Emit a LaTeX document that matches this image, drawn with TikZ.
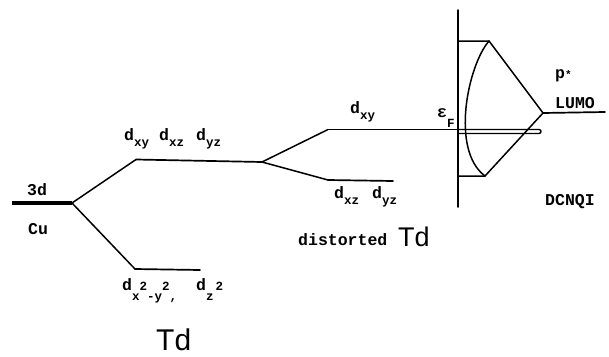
\documentclass[tikz,border=0pt]{standalone}
\usepackage{fontspec}
\newfontfamily\tw{Liberation Mono}
\newfontfamily\tdfont{Liberation Sans}
\newcommand\subtw[2][-6.5pt]{\raisebox{#1}{\fontsize{12.5}{12.5}\selectfont #2}}
\newcommand\suptw[1]{\raisebox{9.5pt}{\fontsize{12.5}{12.5}\selectfont #1}}
\begin{document}
\begin{tikzpicture}[x=1pt,y=-1pt, line cap=round, line join=round,
  lvl/.style={line width=1.7pt},
  conn/.style={line width=1.5pt},
  lab/.style={inner sep=0pt, anchor=base west, font=\tw\bfseries\fontsize{16.5}{16.5}\selectfont},
  bigtd/.style={inner sep=0pt, anchor=base west, font=\tdfont\fontsize{30}{30}\selectfont},
  midtd/.style={inner sep=0pt, anchor=base west, font=\tdfont\fontsize{27}{27}\selectfont}]
\useasboundingbox (0,0) rectangle (609,356);
% level end points
\coordinate (cuL) at (12,203);
\coordinate (cuR) at (72,203);
\coordinate (t2L) at (136,159.5);
\coordinate (t2R) at (262,162);
\coordinate (eL) at (135,269);
\coordinate (eR) at (200,270);
\coordinate (xyL) at (328,129.5);
\coordinate (xyR) at (458,129.5);
\coordinate (xzL) at (328,180);
\coordinate (xzR) at (393,181);
\coordinate (vT) at (458,10);
\coordinate (vB) at (458,207);
\coordinate (uL) at (458,41);
\coordinate (uR) at (489,41);
\coordinate (lL) at (458,176);
\coordinate (lR) at (485,176);
\coordinate (lumo) at (543,113);
\coordinate (lumoR) at (605,112);
% Cu 3d level
\draw[line width=4.5pt, line cap=butt] (cuL) -- (cuR);
\draw[conn] (cuR) -- (t2L);
\draw[conn] (cuR) -- (eL);
\draw[lvl] (t2L) -- (t2R);
\draw[lvl] (eL) -- (eR);
% distorted Td
\draw[conn] (t2R) -- (xyL);
\draw[conn] (t2R) -- (xzL);
\draw[lvl] (xyL) -- (xyR);
\draw[lvl] (xzL) -- (xzR);
% Fermi level band (double line with rounded end)
\draw[line width=1.4pt, rounded corners=2pt] (xyR) -- (541,129.5) -- (541,133.5) -- (458,133.5);
% DCNQI band
\draw[conn] (vT) -- (vB);
\draw[conn] (uL) -- (uR) -- (lumo);
\draw[conn] (lL) -- (lR) -- (lumo);
\draw[conn] (uR) .. controls (468,65) and (450,150) .. (lR);
\draw[lvl] (lumo) -- (lumoR);
% labels
\node[lab] (l3d) at (27,195) {3d};
\node[lab] (lcu) at (28,234) {Cu};
\node[lab] (lxy1) at (124,140) {d\subtw{xy}};
\node[lab] (lxz1) at (159,140) {d\subtw{xz}};
\node[lab] (lyz1) at (196,140) {d\subtw{yz}};
\node[lab] (lxy2) at (350,113) {d\subtw{xy}};
\node[lab] (lxz2) at (334,198) {d\subtw{xz}};
\node[lab] (lyz2) at (372,198) {d\subtw{yz}};
\node[lab] (le1) at (122,290) {d\subtw[-10pt]{x\suptw{2}-y\suptw{2},}};
\node[lab] (le2) at (196,290) {d\subtw[-10pt]{z\,\suptw{2}}};
\node[lab] (lef) at (437,117) {ε\subtw[-10pt]{F}};
\node[lab] (lp) at (555,78) {p{\fontsize{11}{11}\selectfont *}};
\node[lab] (llumo) at (555,108) {LUMO};
\node[lab] (ldc) at (545,205) {DCNQI};
\node[lab] (ldist) at (298,245) {distorted};
\node[midtd] (ltd2) at (398,246.5) {Td};
\node[bigtd] (ltd1) at (156,350) {Td};
\end{tikzpicture}
\end{document}
